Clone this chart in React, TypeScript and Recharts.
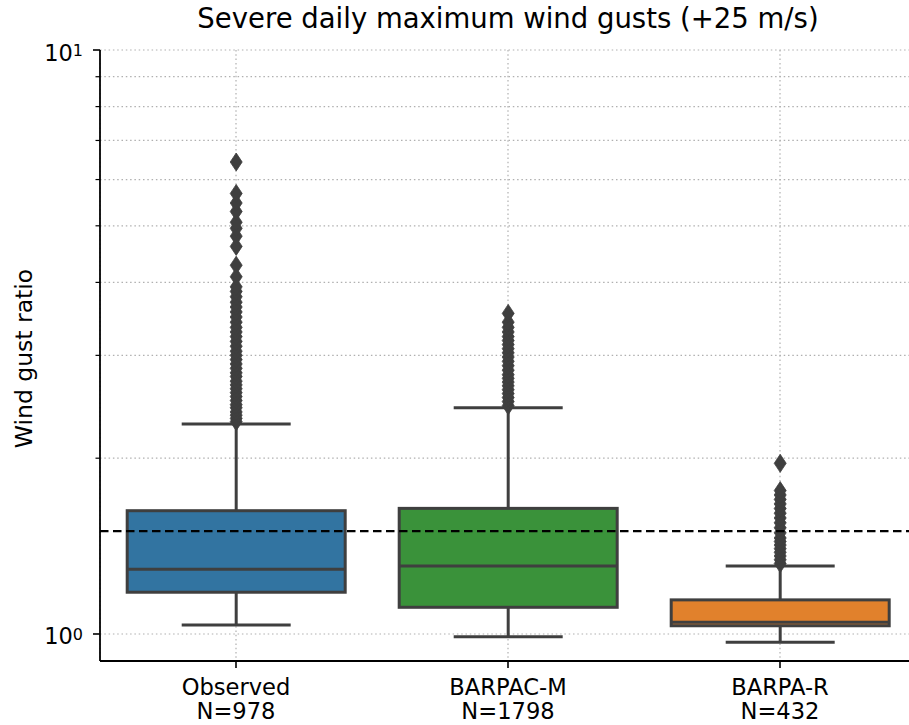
import React from 'react';
import { ComposedChart, Bar, XAxis, YAxis, CartesianGrid, ReferenceLine, Label } from 'recharts';

const categories = ['Observed', 'BARPAC-M', 'BARPA-R'];
const sampleSizes = [978, 1798, 432];
const whiskerLow = [1.036, 0.989, 0.968];
const quartile1 = [1.179, 1.111, 1.033];
const medians = [1.291, 1.307, 1.047];
const quartile3 = [1.626, 1.641, 1.144];
const whiskerHigh = [2.289, 2.44, 1.307];

const observedOutliers = [
  2.31, 2.34, 2.37, 2.4, 2.44, 2.47, 2.51, 2.55, 2.59, 2.63, 2.67, 2.71, 2.76, 2.8, 2.85, 2.9, 2.95, 3.0,
  3.05, 3.11, 3.17, 3.23, 3.29, 3.35, 3.42, 3.49, 3.56, 3.63, 3.7, 3.78, 3.86, 3.93, 4.09, 4.28, 4.61,
  4.8, 4.95, 5.07, 5.29, 5.47, 5.68, 6.43,
];
const barpacOutliers = [
  2.46, 2.5, 2.54, 2.58, 2.62, 2.66, 2.7, 2.74, 2.78, 2.83, 2.88, 2.93, 2.98, 3.03, 3.08, 3.13, 3.18,
  3.23, 3.29, 3.35, 3.42, 3.54,
];
const barpaOutliers = [
  1.32, 1.34, 1.36, 1.38, 1.4, 1.42, 1.44, 1.46, 1.49, 1.52, 1.55, 1.58, 1.61, 1.64, 1.67, 1.7, 1.73,
  1.76, 1.96,
];

const boxColors = ['#3274a1', '#3a923a', '#e1812c'];
const yTicks = [1, 2, 3, 4, 5, 6, 7, 8, 9, 10];
const threshold = 1.5;

const outlierLists = [observedOutliers, barpacOutliers, barpaOutliers];

const data = categories.map((name, i) => ({
  name,
  n: sampleSizes[i],
  lo: whiskerLow[i],
  q1: quartile1[i],
  med: medians[i],
  q3: quartile3[i],
  hi: whiskerHigh[i],
  outliers: outlierLists[i],
  color: boxColors[i],
  range: [whiskerLow[i], whiskerHigh[i]],
}));

const LINE = '#3f3f3f';
const LW = 3;
const FONT = 'DejaVu Sans, sans-serif';

// pixel position of any value, from the bar's own y/height (log scale)
function makeY(props: any) {
  const { y, height, payload } = props;
  const top = Math.min(y, y + height);
  const bottom = Math.max(y, y + height);
  const a = Math.log10(payload.hi);
  const b = Math.log10(payload.lo);
  return (v: number) => top + ((bottom - top) * (a - Math.log10(v))) / (a - b);
}

function BoxFace(props: any) {
  const { x, width, payload } = props;
  const py = makeY(props);
  return (
    <rect x={x} y={py(payload.q3)} width={width} height={py(payload.q1) - py(payload.q3)} fill={payload.color} />
  );
}

function BoxLines(props: any) {
  const { x, width, payload } = props;
  const py = makeY(props);
  const cx = x + width / 2;
  const capL = x + width / 4;
  const capR = x + (width * 3) / 4;
  return (
    <g>
      <line x1={cx} x2={cx} y1={py(payload.q1)} y2={py(payload.lo)} stroke={LINE} strokeWidth={LW} />
      <line x1={cx} x2={cx} y1={py(payload.q3)} y2={py(payload.hi)} stroke={LINE} strokeWidth={LW} />
      <line x1={capL} x2={capR} y1={py(payload.lo)} y2={py(payload.lo)} stroke={LINE} strokeWidth={LW} />
      <line x1={capL} x2={capR} y1={py(payload.hi)} y2={py(payload.hi)} stroke={LINE} strokeWidth={LW} />
      <rect
        x={x}
        y={py(payload.q3)}
        width={width}
        height={py(payload.q1) - py(payload.q3)}
        fill="none"
        stroke={LINE}
        strokeWidth={LW}
      />
      <line x1={x} x2={x + width} y1={py(payload.med)} y2={py(payload.med)} stroke={LINE} strokeWidth={LW} />
      {payload.outliers.map((v: number, i: number) => {
        const cy = py(v);
        return (
          <polygon
            key={i}
            points={`${cx},${cy - 9} ${cx + 6},${cy} ${cx},${cy + 9} ${cx - 6},${cy}`}
            fill={LINE}
            stroke={LINE}
            strokeWidth={0.8}
          />
        );
      })}
    </g>
  );
}

function YTick(props: any) {
  const { x, y, payload } = props;
  const v = payload.value;
  const major = Math.abs(Math.log10(v) - Math.round(Math.log10(v))) < 1e-9;
  return (
    <g>
      <line x1={x - (major ? 7 : 4.5)} x2={x} y1={y} y2={y} stroke="#000" strokeWidth={major ? 1.6 : 1.2} />
      {major && (
        <text x={x - 17} y={y + 10.5} textAnchor="end" fontSize={22.5} fontFamily={FONT} fill="#000">
          10
          <tspan dy={-4.5} fontSize={16}>
            {Math.round(Math.log10(v))}
          </tspan>
        </text>
      )}
    </g>
  );
}

function XTick(props: any) {
  const { x, y, payload, index } = props;
  return (
    <g>
      <line x1={x} x2={x} y1={y} y2={y + 7} stroke="#000" strokeWidth={1.6} />
      <text x={x} y={y + 34} textAnchor="middle" fontSize={22.6} fontFamily={FONT} fill="#000">
        {payload.value}
      </text>
      <text x={x} y={y + 58} textAnchor="middle" fontSize={22.6} fontFamily={FONT} fill="#000">
        {`N=${sampleSizes[index]}`}
      </text>
    </g>
  );
}

function YLabel(props: any) {
  const vb = props.viewBox || { x: 0, y: 50, height: 611 };
  const cy = vb.y + vb.height / 2 + 3;
  const lx = vb.x + 32;
  return (
    <text
      x={lx}
      y={cy}
      transform={`rotate(-90, ${lx}, ${cy})`}
      textAnchor="middle"
      fontSize={23.5}
      fontFamily={FONT}
      fill="#000"
    >
      Wind gust ratio
    </text>
  );
}

export default function App() {
  return (
    <div style={{ position: 'absolute', left: 0, top: 0, width: 909, height: 725, overflow: 'hidden', background: '#fff' }}>
      <ComposedChart width={916} height={725} data={data} margin={{ top: 50, right: 0, bottom: 0, left: 0 }}>
        <XAxis
          dataKey="name"
          interval={0}
          height={64}
          tickSize={0}
          tickMargin={0}
          tickLine={false}
          tick={<XTick />}
          axisLine={{ stroke: '#000', strokeWidth: 1.8 }}
        />
        <XAxis xAxisId="faces" dataKey="name" hide />
        <XAxis
          xAxisId="top"
          orientation="top"
          dataKey="name"
          height={0}
          tick={false}
          tickLine={false}
          axisLine={{ stroke: '#000', strokeWidth: 1.8 }}
        />
        <YAxis
          scale="log"
          type="number"
          domain={[0.899, 10]}
          allowDataOverflow
          ticks={yTicks}
          interval={0}
          width={100}
          tickSize={0}
          tickMargin={0}
          tickLine={false}
          tick={<YTick />}
          axisLine={{ stroke: '#000', strokeWidth: 1.8 }}
        >
          <Label content={<YLabel />} />
        </YAxis>
        <Bar xAxisId="faces" dataKey="range" shape={<BoxFace />} isAnimationActive={false} />
        <CartesianGrid stroke="#b0b0b0" strokeWidth={1.2} strokeDasharray="1.5 2.8" />
        <Bar dataKey="range" shape={<BoxLines />} isAnimationActive={false} />
        <ReferenceLine y={threshold} stroke="#000" strokeWidth={2.2} strokeDasharray="8.5 4.5" />
      </ComposedChart>
      <svg width={909} height={725} style={{ position: 'absolute', left: 0, top: 0, pointerEvents: 'none' }}>
        <text x={508} y={28} textAnchor="middle" fontSize={27.5} fontFamily={FONT} fill="#000">
          Severe daily maximum wind gusts (+25 m/s)
        </text>
      </svg>
    </div>
  );
}
